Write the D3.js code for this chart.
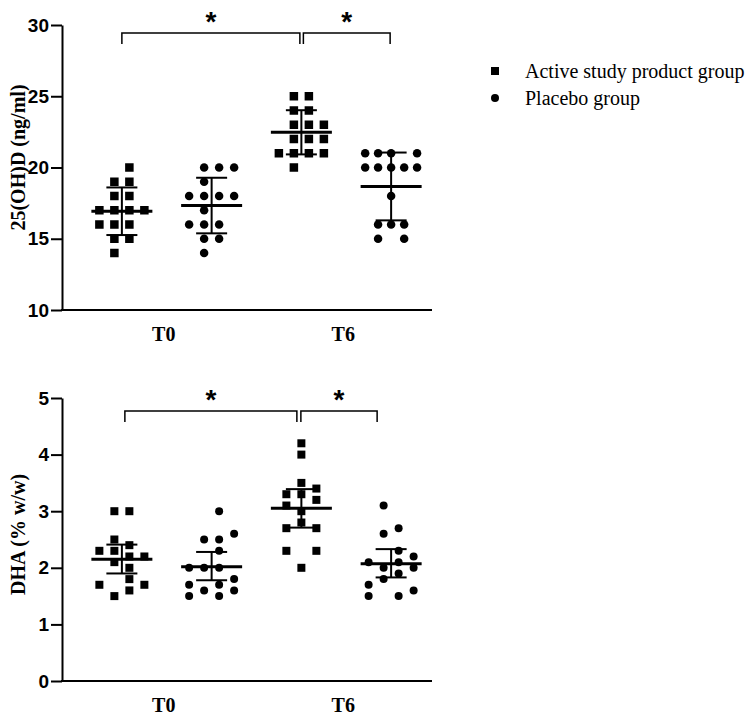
<!DOCTYPE html>
<html>
<head>
<meta charset="utf-8">
<script src="https://cdn.jsdelivr.net/npm/d3@7"></script>
<style>
  body { margin: 0; background: #fff; }
  svg { display: block; }
</style>
</head>
<body>
<svg id="chart" width="750" height="718"></svg>
<script>
// groups along the x axis, two per time point
const groups = ['T0-active', 'T0-placebo', 'T6-active', 'T6-placebo'];
const timepoints = ['T0', 'T6'];
const seriesNames = ['Active study product group', 'Placebo group'];

// --- panel 1: 25(OH)D (ng/ml), bars = mean ± SD ---
const vitdTicks = [10, 15, 20, 25, 30];
const vitdActiveT0 = [20, 19, 19, 18, 18, 17, 17, 17, 17, 16, 16, 16, 15, 15, 14];
const vitdActiveT0Slot = [0.5, -0.5, 0.5, -0.5, 0.5, -1.5, -0.5, 0.5, 1.5, -1.5, -0.5, 0.5, -0.5, 0.5, -0.5];
const vitdPlaceboT0 = [20, 20, 20, 19, 18, 18, 18, 18, 17, 16, 16, 16, 15, 15, 14];
const vitdPlaceboT0Slot = [-0.5, 0.5, 1.5, -0.5, -1.5, -0.5, 0.5, 1.5, -0.5, -1.5, -0.5, 0.5, -0.5, 0.5, -0.5];
const vitdActiveT6 = [25, 25, 24, 24, 23, 23, 23, 22, 22, 22, 21, 21, 21, 21, 20];
const vitdActiveT6Slot = [-0.5, 0.5, -0.5, 0.5, -0.5, 0.5, 1.5, -0.5, 0.5, 1.5, -1.5, -0.5, 0.5, 1.5, -0.5];
const vitdPlaceboT6 = [21, 21, 21, 21, 20, 20, 20, 20, 20, 18, 16, 16, 16, 15, 15];
const vitdPlaceboT6Slot = [-1.73, -0.87, 0, 1.73, -1.73, -0.87, 0, 0.87, 1.73, 0, -0.87, 0, 0.87, -0.87, 0.87];
const vitdMean = [16.93, 17.33, 22.47, 18.67];
const vitdLow = [15.26, 15.38, 20.92, 16.29];
const vitdHigh = [18.60, 19.28, 24.02, 21.05];

// --- panel 2: DHA (% w/w), bars = mean with 95% CI ---
const dhaTicks = [0, 1, 2, 3, 4, 5];
const dhaActiveT0 = [3.0, 3.0, 2.5, 2.4, 2.3, 2.3, 2.2, 2.2, 2.1, 2.0, 1.8, 1.7, 1.7, 1.6, 1.5];
const dhaActiveT0Slot = [-0.5, 0.5, -0.5, 0.5, -1.5, -0.5, 0.5, 1.5, -0.5, 0.5, 0.5, -1.5, 1.5, 0.5, -0.5];
const dhaPlaceboT0 = [3.0, 2.6, 2.5, 2.5, 2.3, 2.0, 2.0, 2.0, 1.8, 1.7, 1.7, 1.6, 1.6, 1.5, 1.5];
const dhaPlaceboT0Slot = [0.5, 1.5, -0.5, 0.5, 0.5, -1.5, -0.5, 0.5, 1.5, -1.5, 0.5, 1.5, -0.5, -1.5, 0.5];
const dhaActiveT6 = [4.2, 4.0, 3.5, 3.4, 3.3, 3.3, 3.2, 3.1, 3.0, 2.8, 2.7, 2.7, 2.3, 2.3, 2.0];
const dhaActiveT6Slot = [0, 0, 0, 1, -1, 0, 1, -1, 0, 0, -1, 1, -1, 1, 0];
const dhaPlaceboT6 = [3.1, 2.7, 2.6, 2.3, 2.2, 2.1, 2.1, 2.0, 2.0, 1.9, 1.8, 1.7, 1.6, 1.5, 1.5];
const dhaPlaceboT6Slot = [-0.5, 0.5, -0.5, 0.5, 1.5, -1.5, 0.5, -0.5, 1.5, 0.5, -0.5, -1.5, 1.5, -1.5, 0.5];
const dhaMean = [2.15, 2.02, 3.05, 2.07];
const dhaLow = [1.90, 1.78, 2.71, 1.83];
const dhaHigh = [2.41, 2.28, 3.39, 2.33];

// significance brackets: [from group, to group]
const brackets = [['T0-active', 'T6-active'], ['T6-active', 'T6-placebo']];

const svg = d3.select('#chart');
const SANS = "'Liberation Sans', Arial, sans-serif";
const SERIF = "'Liberation Serif', 'Times New Roman', serif";

const axisX0 = 62, axisX1 = 432;
const x = d3.scaleBand().domain(groups).range([77, 436]);
const slotX = d3.scaleLinear().domain([-1, 1]).range([-15, 15]);

function marker(sel, shape, size) {
  if (shape === 'square') {
    sel.append('rect')
      .attr('x', -size / 2).attr('y', -size / 2)
      .attr('width', size).attr('height', size)
      .attr('fill', '#000');
  } else {
    sel.append('circle').attr('r', size / 2).attr('fill', '#000');
  }
}

function drawPanel(p) {
  const y = d3.scaleLinear().domain(p.domain).range([p.bottom, p.top]);
  const g = svg.append('g');

  // points
  p.series.forEach((s, gi) => {
    const cx = x(groups[gi]) + x.bandwidth() / 2;
    const shape = gi % 2 === 0 ? 'square' : 'circle';
    s.values.forEach((v, i) => {
      g.append('g')
        .attr('transform', `translate(${cx + slotX(s.slots[i])},${y(v)})`)
        .call(marker, shape, p.markerSize);
    });
  });

  // mean + error bars
  groups.forEach((key, gi) => {
    const cx = x(key) + x.bandwidth() / 2;
    g.append('line')
      .attr('x1', cx).attr('x2', cx)
      .attr('y1', y(p.low[gi])).attr('y2', y(p.high[gi]))
      .attr('stroke', '#000').attr('stroke-width', 2);
    [p.low[gi], p.high[gi]].forEach(v => {
      g.append('line')
        .attr('x1', cx - 15.5).attr('x2', cx + 15.5)
        .attr('y1', y(v)).attr('y2', y(v))
        .attr('stroke', '#000').attr('stroke-width', 2);
    });
    g.append('line')
      .attr('x1', cx - 30.5).attr('x2', cx + 30.5)
      .attr('y1', y(p.mean[gi])).attr('y2', y(p.mean[gi]))
      .attr('stroke', '#000').attr('stroke-width', 3);
  });

  // y axis
  const yAxis = g.append('g')
    .attr('transform', `translate(${axisX0},0)`)
    .call(d3.axisLeft(y).tickValues(p.ticks).tickFormat(d3.format('d'))
      .tickSize(11).tickSizeOuter(0).tickPadding(2));
  yAxis.select('.domain').attr('stroke-width', 2);
  yAxis.selectAll('.tick line').attr('stroke-width', 2);
  yAxis.selectAll('.tick text')
    .attr('font-family', SANS).attr('font-size', 19).attr('font-weight', 'bold').attr('fill', '#000');

  // x axis line
  g.append('line')
    .attr('x1', axisX0 - 1).attr('x2', axisX1)
    .attr('y1', p.bottom).attr('y2', p.bottom)
    .attr('stroke', '#000').attr('stroke-width', 2);

  // x labels, centred under each pair of groups
  timepoints.forEach((t, ti) => {
    const a = x(groups[ti * 2]) + x.bandwidth() / 2;
    const b = x(groups[ti * 2 + 1]) + x.bandwidth() / 2;
    g.append('text')
      .attr('x', (a + b) / 2 - 3).attr('y', p.bottom + 31)
      .attr('text-anchor', 'middle')
      .attr('font-family', SERIF).attr('font-size', 20).attr('font-weight', 'bold')
      .text(t);
  });

  // y title
  g.append('text')
    .attr('transform', `translate(${p.titleX},${(p.top + p.bottom) / 2 + p.titleDy}) rotate(-90)`)
    .attr('text-anchor', 'middle')
    .attr('font-family', SERIF).attr('font-size', 20).attr('font-weight', 'bold')
    .text(p.title);

  // brackets with asterisks
  brackets.forEach(([from, to], bi) => {
    const x1 = x(from) + x.bandwidth() / 2 + p.bracketNudge[bi][0];
    const x2 = x(to) + x.bandwidth() / 2 + p.bracketNudge[bi][1];
    const by = p.bracketY;
    g.append('path')
      .attr('d', `M${x1},${by + 11}V${by}H${x2}V${by + 11}`)
      .attr('fill', 'none').attr('stroke', '#000').attr('stroke-width', 1.5);
    g.append('text')
      .attr('x', (x1 + x2) / 2).attr('y', by - 2)
      .attr('text-anchor', 'middle')
      .attr('font-family', SANS).attr('font-size', 28).attr('font-weight', 'bold')
      .text('*');
  });
}

drawPanel({
  domain: [10, 30], top: 25, bottom: 310, ticks: vitdTicks,
  title: '25(OH)D (ng/ml)', titleX: 25, titleDy: -10,
  markerSize: 8.5,
  series: [
    { values: vitdActiveT0, slots: vitdActiveT0Slot },
    { values: vitdPlaceboT0, slots: vitdPlaceboT0Slot },
    { values: vitdActiveT6, slots: vitdActiveT6Slot },
    { values: vitdPlaceboT6, slots: vitdPlaceboT6Slot }
  ],
  mean: vitdMean, low: vitdLow, high: vitdHigh,
  bracketY: 33, bracketNudge: [[0, -1.5], [2, -1]]
});

drawPanel({
  domain: [0, 5], top: 398, bottom: 681, ticks: dhaTicks,
  title: 'DHA (% w/w)', titleX: 25, titleDy: -5,
  markerSize: 8,
  series: [
    { values: dhaActiveT0, slots: dhaActiveT0Slot },
    { values: dhaPlaceboT0, slots: dhaPlaceboT0Slot },
    { values: dhaActiveT6, slots: dhaActiveT6Slot },
    { values: dhaPlaceboT6, slots: dhaPlaceboT6Slot }
  ],
  mean: dhaMean, low: dhaLow, high: dhaHigh,
  bracketY: 411, bracketNudge: [[3, -4.5], [-0.5, -14]]
});

// legend
const legend = svg.append('g').attr('transform', 'translate(495,0)');
seriesNames.forEach((name, i) => {
  const row = legend.append('g').attr('transform', `translate(0,${71 + i * 27})`);
  row.append('g').call(marker, i === 0 ? 'square' : 'circle', 8);
  row.append('text')
    .attr('x', 30).attr('y', 7)
    .attr('font-family', SERIF).attr('font-size', 20)
    .text(name);
});
</script>
</body>
</html>
